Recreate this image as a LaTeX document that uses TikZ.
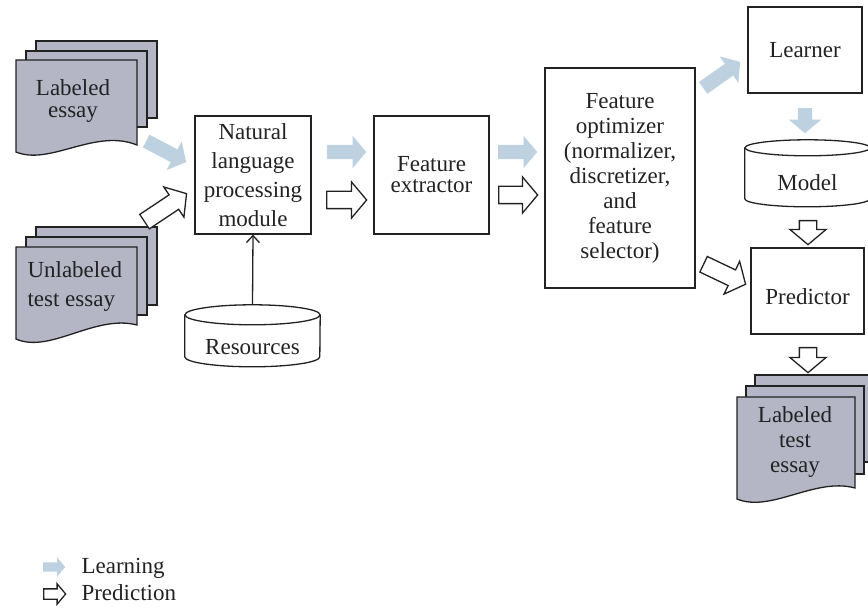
\documentclass[tikz,border=0pt]{standalone}
\usepackage{fontspec}
\setmainfont{Liberation Serif}
\usetikzlibrary{shapes.arrows, calc, arrows.meta}
\definecolor{learnblue}{RGB}{190,209,224}
\definecolor{pagegray}{RGB}{180,182,198}
\definecolor{inkgray}{RGB}{34,34,34}

\begin{document}
\begin{tikzpicture}[x=1pt, y=-1pt, font=\fontsize{23}{25}\selectfont, text=inkgray]

	\tikzstyle{box}=[draw=inkgray, line width=1.3pt, align=center, inner sep=0pt]
	\tikzstyle{page}=[draw=inkgray, fill=pagegray, line width=1.3pt]
	\tikzstyle{drum}=[draw=inkgray, line width=1.3pt]
	\tikzstyle{learn}=[single arrow, fill=learnblue, draw=none, inner sep=0pt, text height=7pt, text depth=7pt, single arrow head extend=9pt, single arrow tip angle=100, anchor=tail]
	\tikzstyle{predict}=[single arrow, fill=white, draw=inkgray, line width=1.3pt, inner sep=0pt, text height=8pt, text depth=8pt, single arrow head extend=9.5pt, single arrow tip angle=100, anchor=tail]
	\tikzstyle{small}=[text height=4.5pt, text depth=4.5pt, single arrow head extend=5pt]

	\useasboundingbox (0,0) rectangle (868,609);

	%%%%%%%% DOCUMENTOS %%%%%%%%
	\draw[page] (36,41) rectangle (157,118); % LABELED ESSAY
	\draw[page] (26,51) rectangle (147,127);
	\draw[page] (16,60) -- (16,152) .. controls (50,166) and (95,128) .. (137,145) -- (137,60) -- cycle;

	\draw[page] (36,227) rectangle (157,305); % UNLABELED
	\draw[page] (26,237) rectangle (147,315);
	\draw[page] (16,247) -- (16,339) .. controls (50,354) and (95,314) .. (137,325) -- (137,247) -- cycle;

	\draw[page] (755,375) rectangle (875,462); % LABELED TEST
	\draw[page] (746,386) rectangle (864,474);
	\draw[page] (737,397) -- (737,499) .. controls (771,513) and (815,477) .. (855,488) -- (855,397) -- cycle;

	\node[align=center, font=\fontsize{23}{22}\selectfont] (lab) at (73,101) {Labeled\\essay};
	\node[align=left, anchor=west, font=\fontsize{23}{29}\selectfont] (unlab) at (24,287) {Unlabeled\\test essay};
	\node[align=center] (labtest) at (795,442) {Labeled\\test\\essay};

	%%%%%%%% MODULOS %%%%%%%%
	\node[box, minimum width=116, minimum height=118, font=\fontsize{23}{29}\selectfont] (nlp) at (253,175) {Natural\\language\\processing\\module};
	\node[box, minimum width=115, minimum height=118, font=\fontsize{23}{21}\selectfont] (fe) at (431.5,175) {Feature\\extractor};
	\node[box, minimum width=150, minimum height=220] (fo) at (620,178) {Feature\\optimizer\\(normalizer,\\discretizer,\\and\\feature\\selector)};
	\node[box, minimum width=114, minimum height=86] (learner) at (805,50) {Learner};
	\node[box, minimum width=113, minimum height=86, text height=28pt] (pred) at (807.5,291) {Predictor};

	%%%%%%%% CILINDROS %%%%%%%%
	\node[minimum width=125, minimum height=67, text height=35pt] (model) at (807.5,173.5) {Model};
	\draw[drum] (model.north west) ++(0,8) -- ++(0,51) arc[start angle=180, end angle=360, x radius=62.5pt, y radius=8pt] -- ($(model.north east)+(0,8)$);
	\draw[drum] ($(model.north)+(0,8)$) ellipse [x radius=62.5pt, y radius=8pt];

	\node[minimum width=135, minimum height=62, text height=38pt] (res) at (252.5,336) {Resources};
	\draw[drum] (res.north west) ++(0,10) -- ++(0,42) arc[start angle=180, end angle=360, x radius=67.5pt, y radius=10pt] -- ($(res.north east)+(0,10)$);
	\draw[drum] ($(res.north)+(0,10)$) ellipse [x radius=67.5pt, y radius=10pt];

	\draw[line width=1.3pt, draw=inkgray, -{Straight Barb[length=7pt, width=13pt]}] (res.north) -- (nlp.south);

	%%%%%%%% FLECHAS %%%%%%%%
	\coordinate (l1a) at (146,141); \coordinate (l1b) at (186,162); % APRENDIZAJE
	\coordinate (l2a) at (327,152); \coordinate (l2b) at (366,152);
	\coordinate (l3a) at (498,152); \coordinate (l3b) at (537,152);
	\coordinate (l4a) at (703,88);  \coordinate (l4b) at (740,62);
	\coordinate (l5a) at (805,108); \coordinate (l5b) at (805,133);

	\coordinate (p1a) at (144,222); \coordinate (p1b) at (186,194); % PREDICCION
	\coordinate (p2a) at (326,200); \coordinate (p2b) at (366,200);
	\coordinate (p3a) at (498,195); \coordinate (p3b) at (537,195);
	\coordinate (p4a) at (703,264); \coordinate (p4b) at (745,284);
	\coordinate (p5a) at (808,220); \coordinate (p5b) at (808,244);
	\coordinate (p6a) at (808,347); \coordinate (p6b) at (808,372);

	\foreach \a/\b in {l1a/l1b, l2a/l2b, l3a/l3b, l4a/l4b, l5a/l5b}
		\path let \p1=($(\b)-(\a)$), \n1={atan2(\y1,\x1)}, \n2={veclen(\x1,\y1)} in node[learn, rotate=\n1, minimum height=\n2] (arr-\a) at (\a) {};
	\foreach \a/\b in {p1a/p1b, p2a/p2b, p3a/p3b, p4a/p4b, p5a/p5b, p6a/p6b}
		\path let \p1=($(\b)-(\a)$), \n1={atan2(\y1,\x1)}, \n2={veclen(\x1,\y1)} in node[predict, rotate=\n1, minimum height=\n2] (arr-\a) at (\a) {};

	%%%%%%%% LEYENDA %%%%%%%%
	\coordinate (leg1) at (43,567);
	\coordinate (leg2) at (43,594);
	\node[learn, small, minimum height=22] (legarr1) at (leg1) {};
	\node[predict, small, minimum height=22] (legarr2) at (leg2) {};
	\node[anchor=base west] (legtxt1) at (78,573) {Learning};
	\node[anchor=base west] (legtxt2) at (78,600) {Prediction};
\end{tikzpicture}
\end{document}
